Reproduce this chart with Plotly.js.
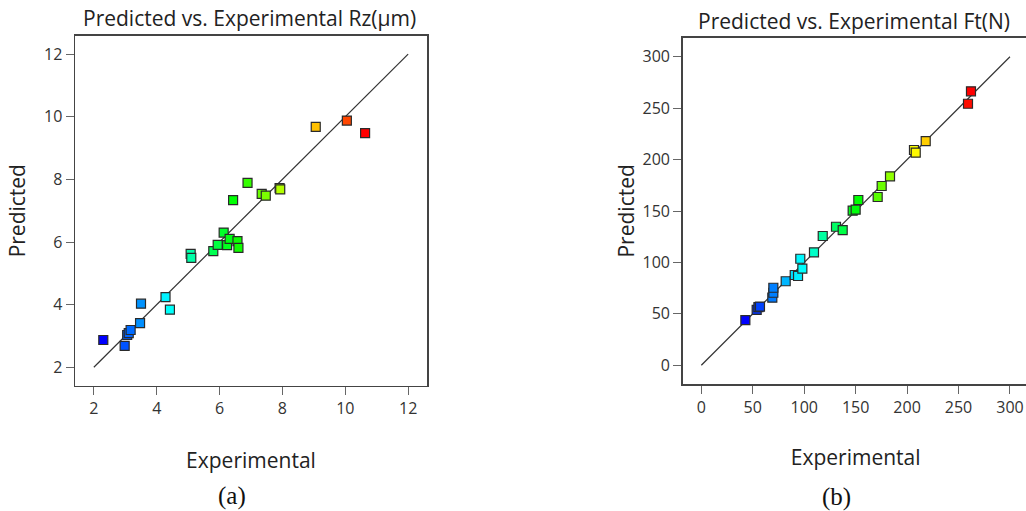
<!DOCTYPE html>
<html>
<head>
<meta charset="utf-8">
<script src="https://cdn.plot.ly/plotly-3.0.1.min.js"></script>
<style>
html, body { margin: 0; padding: 0; overflow: hidden; background: #fff; }
#chart { width: 1040px; height: 511px; }
</style>
</head>
<body>
<div id="chart"></div>
<script>
// Panel (a): Rz (µm)
const rzExperimental = [2.30, 2.98, 3.06, 3.11, 3.17, 3.47, 3.50, 4.28, 4.42, 5.08, 5.10, 5.80, 5.94, 6.13, 6.24, 6.32, 6.57, 6.60, 6.43, 6.89, 7.34, 7.47, 7.91, 7.93, 9.06, 10.05, 10.63];
const rzPredicted    = [2.87, 2.68, 3.03, 3.09, 3.19, 3.41, 4.03, 4.24, 3.84, 5.62, 5.49, 5.71, 5.91, 6.30, 5.90, 6.10, 6.03, 5.81, 7.34, 7.89, 7.54, 7.48, 7.72, 7.68, 9.68, 9.88, 9.48];
const rzDiagonal = [2, 12];
const rzTicks = [2, 4, 6, 8, 10, 12];

// Panel (b): Ft (N)
const ftExperimental = [42.8, 53.8, 55.5, 57.0, 69.0, 70.0, 70.0, 82.0, 90.8, 94.0, 98.2, 96.2, 109.5, 118.0, 130.9, 137.4, 147.1, 150.0, 152.6, 171.4, 175.3, 183.4, 206.7, 208.4, 218.1, 259.2, 262.1];
const ftPredicted    = [44.0, 53.8, 56.5, 57.0, 65.7, 70.5, 75.4, 81.7, 87.8, 86.8, 93.9, 103.6, 109.8, 125.7, 134.7, 131.5, 150.3, 151.3, 160.7, 163.6, 174.3, 183.7, 209.3, 206.7, 218.0, 254.3, 266.4];
const ftDiagonal = [0, 300];
const ftTicks = [0, 50, 100, 150, 200, 250, 300];

const titles = ["Predicted vs. Experimental Rz(\u03bcm)", "Predicted vs. Experimental Ft(N)"];
const captions = ["(a)", "(b)"];
const xTitle = "Experimental";
const yTitle = "Predicted";

const rainbow = [[0, "rgb(0,0,255)"], [0.25, "rgb(0,255,255)"], [0.5, "rgb(0,255,0)"], [0.75, "rgb(255,255,0)"], [1, "rgb(255,0,0)"]];
const FONT = "'Open Sans', 'Noto Sans', sans-serif";

function pointsTrace(x, y, xa, ya) {
  return {
    x: x, y: y, xaxis: xa, yaxis: ya, type: "scatter", mode: "markers",
    marker: { symbol: "square", size: 9, color: x, colorscale: rainbow, showscale: false,
              line: { color: "#2a2a2a", width: 1.2 } },
    hoverinfo: "x+y", showlegend: false
  };
}
function diagTrace(d, xa, ya) {
  return { x: d, y: d, xaxis: xa, yaxis: ya, type: "scatter", mode: "lines",
           line: { color: "#333", width: 1.2 }, hoverinfo: "skip", showlegend: false };
}

const traces = [
  diagTrace(rzDiagonal, "x", "y"),
  pointsTrace(rzExperimental, rzPredicted, "x", "y"),
  diagTrace(ftDiagonal, "x2", "y2"),
  pointsTrace(ftExperimental, ftPredicted, "x2", "y2")
];

function axis(extra) {
  return Object.assign({
    showline: true, mirror: true, linecolor: "#444", linewidth: 1.5,
    showgrid: false, zeroline: false, ticks: "outside", ticklen: 8, tickwidth: 1, tickcolor: "#666",
    tickfont: { family: FONT, size: 16, color: "#333" }, automargin: false, fixedrange: true
  }, extra);
}

const W = 1040, H = 511;
const TF = { family: FONT, size: 21, color: "#222" };
const layout = {
  width: W, height: H,
  margin: { l: 0, r: 0, t: 0, b: 0 },
  paper_bgcolor: "#fff", plot_bgcolor: "#fff",
  xaxis: axis({ domain: [75 / W, 427 / W], range: [1.4, 12.6], tickvals: rzTicks, anchor: "y",
                title: { text: xTitle, font: TF, standoff: 35 } }),
  yaxis: axis({ domain: [(H - 385.7) / H, (H - 35.7) / H], range: [1.41, 12.59], tickvals: rzTicks, anchor: "x",
                title: { text: yTitle, font: TF, standoff: 12 } }),
  xaxis2: axis({ domain: [682.7 / W, 1028.7 / W], range: [-18.1, 318.2], tickvals: ftTicks, anchor: "y2",
                 title: { text: xTitle, font: TF, standoff: 33 } }),
  yaxis2: axis({ domain: [(H - 384) / H, (H - 37.7) / H], range: [-18.2, 318.5], tickvals: ftTicks, anchor: "x2",
                 title: { text: yTitle, font: TF, standoff: 2 } }),
  annotations: [
    { text: titles[0], xref: "paper", yref: "paper", x: 249 / W, y: (H - 18) / H, xanchor: "center", yanchor: "middle",
      showarrow: false, font: TF },
    { text: titles[1], xref: "paper", yref: "paper", x: 854 / W, y: (H - 21) / H, xanchor: "center", yanchor: "middle",
      showarrow: false, font: TF },
    { text: captions[0], xref: "paper", yref: "paper", x: 232 / W, y: (H - 496) / H, xanchor: "center", yanchor: "middle",
      showarrow: false, font: { family: "'Liberation Serif', 'Times New Roman', serif", size: 25, color: "#111" } },
    { text: captions[1], xref: "paper", yref: "paper", x: 836.7 / W, y: (H - 496.5) / H, xanchor: "center", yanchor: "middle",
      showarrow: false, font: { family: "'Liberation Serif', 'Times New Roman', serif", size: 25, color: "#111" } }
  ]
};

Plotly.newPlot("chart", traces, layout, { staticPlot: true, displayModeBar: false });
</script>
</body>
</html>
